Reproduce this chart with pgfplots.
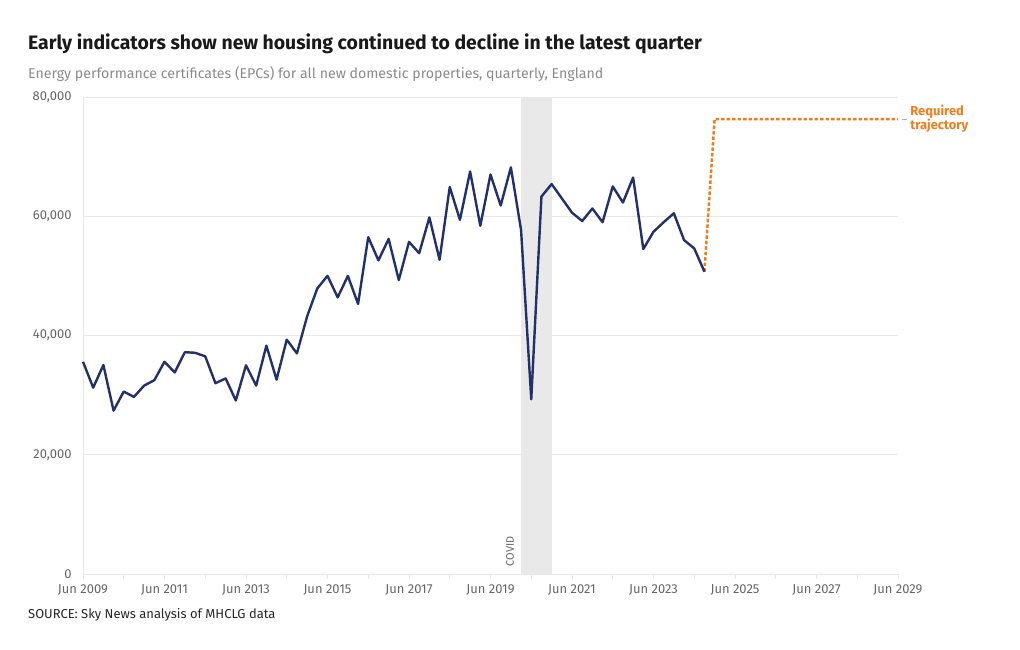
\documentclass[border=0pt]{standalone}
\usepackage{pgfplots}
\pgfplotsset{compat=1.18}
\usepackage{fontspec}
\setmainfont{Fira Sans}
\definecolor{navy}{HTML}{22306B}
\definecolor{orng}{HTML}{F07D1A}
\definecolor{gridc}{HTML}{E8E8E8}
\definecolor{band}{HTML}{E9E9E9}
\definecolor{tickc}{HTML}{666666}
\definecolor{subc}{HTML}{8A8A8A}
\pgfplotstableread{
x y
2009.50 35600
2009.75 31250
2010.00 35050
2010.25 27400
2010.50 30600
2010.75 29700
2011.00 31600
2011.25 32500
2011.50 35600
2011.75 33800
2012.00 37200
2012.25 37100
2012.50 36500
2012.75 32000
2013.00 32800
2013.25 29100
2013.50 35000
2013.75 31600
2014.00 38300
2014.25 32600
2014.50 39300
2014.75 37000
2015.00 43200
2015.25 47900
2015.50 50000
2015.75 46400
2016.00 50000
2016.25 45300
2016.50 56500
2016.75 52600
2017.00 56200
2017.25 49300
2017.50 55700
2017.75 53800
2018.00 59800
2018.25 52700
2018.50 64900
2018.75 59400
2019.00 67500
2019.25 58400
2019.50 67000
2019.75 61800
2020.00 68200
2020.25 57700
2020.50 29300
2020.75 63300
2021.00 65400
2021.25 63000
2021.50 60600
2021.75 59200
2022.00 61300
2022.25 59000
2022.50 65000
2022.75 62300
2023.00 66500
2023.25 54500
2023.50 57400
2023.75 59000
2024.00 60500
2024.25 56000
2024.50 54600
2024.75 50700
}\epcs
\pgfplotstableread{
x y
2024.75 50700
2025.00 76300
2029.50 76300
}\req
\begin{document}
\begin{tikzpicture}
\useasboundingbox (0,0) rectangle (1020bp,650bp);
\node[anchor=base west, inner sep=0pt, font=\fontsize{19.5}{22}\selectfont\bfseries, text=black!90] at (28bp,600bp) {Early indicators show new housing continued to decline in the latest quarter};
\node[anchor=base west, inner sep=0pt, font=\fontsize{14.2}{17}\selectfont, text=subc] at (28bp,571bp) {Energy performance certificates (EPCs) for all new domestic properties, quarterly, England};
\node[anchor=base west, inner sep=0pt, font=\fontsize{13}{16}\selectfont, text=black!85] at (28bp,32bp) {SOURCE: Sky News analysis of MHCLG data};
\begin{axis}[
  at={(83bp,76bp)}, anchor=south west,
  width=815bp, height=477bp, scale only axis,
  xmin=2009.5, xmax=2029.5, ymin=0, ymax=80000,
  axis x line*=bottom, axis y line*=left,
  axis line style={draw=gridc, line width=0.8pt},
  xtick={2009.5,2011.5,...,2029.5},
  xticklabels={Jun 2009,Jun 2011,Jun 2013,Jun 2015,Jun 2017,Jun 2019,Jun 2021,Jun 2023,Jun 2025,Jun 2027,Jun 2029},
  minor xtick={2010.5,2012.5,...,2028.5},
  tick align=outside,
  major tick length=5bp, minor tick length=5bp,
  x tick style={draw=gridc, line width=0.8pt},
  ytick={0,20000,40000,60000,80000},
  y tick style={draw=none},
  ymajorgrids, grid style={draw=gridc, line width=0.8pt},
  scaled y ticks=false,
  /pgf/number format/.cd, 1000 sep={,}, assume math mode=true,
  /pgfplots/.cd,
  tick label style={font=\fontsize{13}{15}\selectfont, text=tickc},
  yticklabel style={xshift=-3bp},
  xticklabel style={yshift=-2bp},
  clip=false,
]
\fill[band] (axis cs:2020.25,0) rectangle (axis cs:2021.0,80000);
\node[rotate=90, anchor=west, inner sep=0pt, font=\fontsize{11}{13}\selectfont, text=tickc] at (axis cs:2019.98,1300) {COVID};
\addplot[orng, line width=2.5bp, dash pattern=on 3.5bp off 2bp, line join=round] table[x=x,y=y] {\req};
\addplot[navy, line width=2.4bp, line join=round] table[x=x,y=y] {\epcs};
\draw[gray!60, line width=1bp] (axis cs:2029.6,76300) -- (axis cs:2029.72,76300);
\node[anchor=west, align=left, inner sep=0pt, font=\fontsize{13}{14}\selectfont\bfseries, text=orng] at (axis cs:2029.8,76300) {Required\\trajectory};
\end{axis}
\end{tikzpicture}
\end{document}
